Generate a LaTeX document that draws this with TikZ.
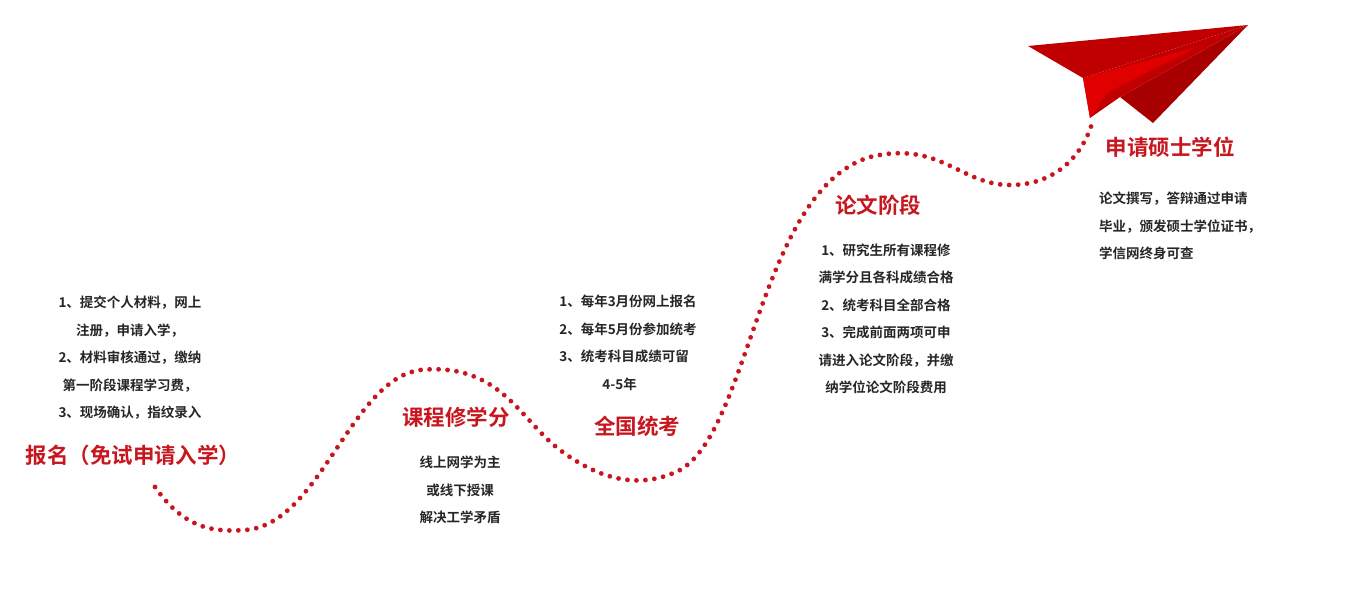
\documentclass[tikz,border=0pt]{standalone}
\usepackage{fontspec}
\setmainfont{Noto Sans CJK SC}[BoldFont={Noto Sans CJK SC Bold}]
\definecolor{dred}{HTML}{C8161E}
\definecolor{pl1}{HTML}{C00000}
\definecolor{pl2}{HTML}{E00000}
\definecolor{pl3}{HTML}{A80000}
\begin{document}
\begin{tikzpicture}[x=1pt,y=-1pt,
 ttl/.style={text=dred,font=\bfseries\fontsize{21.5}{24}\selectfont,inner sep=0},
 body/.style={font=\bfseries\fontsize{13.5}{27.5}\selectfont,align=center,inner sep=0,text=black!85}]
\useasboundingbox (0,0) rectangle (1358,614);
% dotted path
\draw[dred,line width=4.8pt,line cap=round,dash pattern=on 0pt off 9pt]
 (155,487) .. controls (185,530) and (215,532) .. (245,530)
 .. controls (320,525) and (350,380) .. (420,370)
 .. controls (500,362) and (520,420) .. (560,450)
 .. controls (600,480) and (640,490) .. (680,470)
 .. controls (750,430) and (760,190) .. (870,157)
 .. controls (940,140) and (960,185) .. (1010,185)
 .. controls (1060,185) and (1085,150) .. (1093,120);
% plane
\fill[pl1] (1028,46) -- (1248,25) -- (1083,78) -- cycle;
\fill[pl3] (1248,25) -- (1120,97) -- (1153,123) -- cycle;
\fill[pl1] (1083,78) -- (1248,25) -- (1120,97) -- (1090,118) -- cycle;
\fill[pl2] (1083,78) -- (1197,47) -- (1107,93) -- (1090,118) -- cycle;
% titles
\node[ttl] (t1) at (133,455) {报名（免试申请入学）};
\node[ttl] (t2) at (456,417) {课程修学分};
\node[ttl] (t3) at (637,426) {全国统考};
\node[ttl] (t4) at (878,205) {论文阶段};
\node[ttl] (t5) at (1170,147) {申请硕士学位};
% bodies
\node[body] (b1) at (130,358) {1、提交个人材料，网上\\注册，申请入学，\\2、材料审核通过，缴纳\\第一阶段课程学习费，\\3、现场确认，指纹录入};
\node[body] (b2) at (460,490) {线上网学为主\\或线下授课\\解决工学矛盾};
\node[body,align=left] (b3) at (628,343) {1、每年3月份网上报名\\2、每年5月份参加统考\\3、统考科目成绩可留\\\hspace*{3.2em}4-5年};
\node[body] (b4) at (886,319) {1、研究生所有课程修\\满学分且各科成绩合格\\2、统考科目全部合格\\3、完成前面两项可申\\请进入论文阶段，并缴\\纳学位论文阶段费用};
\node[body,align=left] (b5) at (1180,226) {论文撰写，答辩通过申请\\毕业，颁发硕士学位证书，\\学信网终身可查};
\end{tikzpicture}
\end{document}
